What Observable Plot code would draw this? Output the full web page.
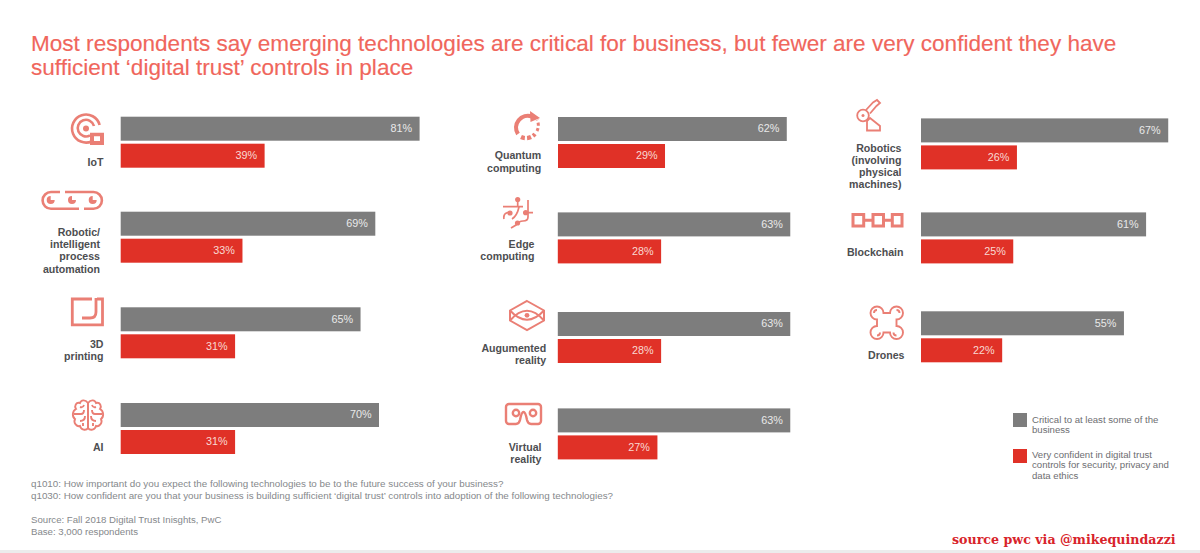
<!DOCTYPE html>
<html>
<head>
<meta charset="utf-8">
<script src="https://cdn.jsdelivr.net/npm/d3@7"></script>
<script src="https://cdn.jsdelivr.net/npm/@observablehq/plot@0.6"></script>
<style>
html,body{margin:0;padding:0;background:#fff;overflow:hidden}
#page{position:relative;width:1200px;height:553px;font-family:"Liberation Sans",sans-serif;overflow:hidden}
#title{position:absolute;left:31px;top:32px;width:1150px;margin:0;font-size:22.55px;line-height:24px;font-weight:400;color:#f0665c;white-space:nowrap;-webkit-text-stroke:.15px #f0665c}
#chart{position:absolute;left:0;top:95px}
#notes{position:absolute;left:31px;top:478px;line-height:12px;color:#85888b;white-space:nowrap}
#notes p{margin:0 0 12px 0}
#notes .q{font-size:9.82px}
#notes .s{font-size:9.64px}
.key{position:absolute;left:1013px;width:14px;height:14px}
.keytext{position:absolute;left:1032px;font-size:9.6px;line-height:10.8px;color:#6d6e71;white-space:nowrap}
#credit{position:absolute;left:952px;top:532px;font-family:"DejaVu Serif",serif;font-weight:700;font-size:12.63px;line-height:16px;color:#d8232a;white-space:nowrap}
#rule{position:absolute;left:0;top:550px;width:1200px;height:3px;background:#ececec}
</style>
</head>
<body>
<div id="page">
<h1 id="title">Most respondents say emerging technologies are critical for business, but fewer are very confident they have<br>sufficient ‘digital trust’ controls in place</h1>
<div id="chart"></div>
<div class="key" style="top:413px;background:#7d7d7d"></div>
<div class="keytext" style="top:414.5px">Critical to at least some of the<br>business</div>
<div class="key" style="top:448.5px;background:#e03127"></div>
<div class="keytext" style="top:449.5px">Very confident in digital trust<br>controls for security, privacy and<br>data ethics</div>
<div id="notes">
<p class="q">q1010: How important do you expect the following technologies to be to the future success of your business?<br>q1030: How confident are you that your business is building sufficient ‘digital trust’ controls into adoption of the following technologies?</p>
<p class="s">Source: Fall 2018 Digital Trust Inisghts, PwC<br>Base: 3,000 respondents</p>
</div>
<div id="credit">source pwc via @mikequindazzi</div>
<div id="rule"></div>
</div>
<script>
// ---- data ----
const technologies = ["IoT","Robotic/\nintelligent\nprocess\nautomation","3D\nprinting","AI","Quantum\ncomputing","Edge\ncomputing","Augumented\nreality","Virtual\nreality","Robotics\n(involving\nphysical\nmachines)","Blockchain","Drones"];
const criticalValues  = [81,69,65,70,62,63,63,63,67,61,55];
const confidentValues = [39,33,31,31,29,28,28,27,26,25,22];
const seriesNames = ["Critical to at least some of the business","Very confident in digital trust controls for security, privacy and data ethics"];

// ---- layout (page pixels) ----
const svgTop = 95, svgHeight = 375;
const pxPerPoint = 3.69;
const panelLeft  = [120.7,120.7,120.7,120.7,558,557.8,557.8,557.8,921,921,921];
const panelTop   = [116.7,211.7,307.3,403,117,212.4,312,408.4,118.4,212.4,311.3];
const labelRight = [103,99.5,103,103,540.7,534,545.7,541,901,903,904];
const labelFirst = [163,232.5,344.3,447.7,156,244.3,348.3,447.7,148.3,252.3,356];
const barColors = ["#7d7d7d","#e03127"];
const valueColors = ["#e9e9e9","#f9d9d3"];
const iconColor = "#ea7f75";

const rows = technologies.map((t,i)=>[
  {tech:t,series:seriesNames[0],value:criticalValues[i]},
  {tech:t,series:seriesNames[1],value:confidentValues[i]}
]);

const icons = `
<g fill="none" stroke="${iconColor}" stroke-width="2.6">
 <path d="M92 141.2A14 14 0 1 1 99.6 125"/><path d="M90 135.4A8.3 8.3 0 1 1 94 126"/>
 <circle cx="86" cy="128.4" r="3" fill="${iconColor}" stroke="none"/>
 <path fill-rule="evenodd" stroke="none" fill="${iconColor}" d="M90 132.7H104V145H90ZM94 136.3V141H100V136.3Z"/>
 <path d="M60 192H51a8.4 8.4 0 0 0 0 16.8H79"/><path d="M65 192H93.5a8.4 8.4 0 0 1 0 16.8H84"/>
 <path stroke="none" fill="${iconColor}" d="M50.7 196A4 4 0 1 0 54.7 200H50.7ZM72 196A4 4 0 1 0 76 200H72ZM92.7 196A4 4 0 1 0 96.7 200L92.7 200Z"/>
 <path stroke-width="2.8" d="M92 299H72.3V324.8H102.5V299H97"/><path stroke-width="2.8" d="M96 298V312Q96 318 90 318H82"/>
 <g stroke-width="1.9">
  <path d="M88 403C85 399 81 400 80 403C76 402 74 406 76 409C72 411 72 417 75 419C73 423 77 427 80 426C81 430 86 431 88 428V403"/>
  <path d="M74 414H81Q84 414 84 410M80 421Q85 421 85 416M80 407Q83 408 84 405M83 426V423"/>
 </g>
 <g stroke-width="1.9" transform="translate(176 0) scale(-1 1)">
  <path d="M88 403C85 399 81 400 80 403C76 402 74 406 76 409C72 411 72 417 75 419C73 423 77 427 80 426C81 430 86 431 88 428V403"/>
  <path d="M74 414H81Q84 414 84 410M80 421Q85 421 85 416M80 407Q83 408 84 405M83 426V423"/>
 </g>
 <path stroke-width="4.2" d="M532 116.5A11.8 11.8 0 0 0 518 134"/>
 <path stroke="none" fill="${iconColor}" d="M530 111L540 118L530.5 122Z"/>
 <path stroke-width="4.2" stroke-dasharray="4 2.2" d="M521 137A11.8 11.8 0 0 0 535 134"/>
 <path stroke-width="3" stroke-dasharray="3 2.4" d="M537 131A11.8 11.8 0 0 0 537 120"/>
 <g stroke-width="1.7">
  <path d="M503 206.7H523M517.7 200V206.7M528 200V217Q528 221 523 221Q519 221 516 225L511 228M523 212.7H533M512 212.7H507Q503 214 504 219M519 207Q517 216 512 219"/>
  <g fill="${iconColor}" stroke="none"><circle cx="517.7" cy="199.5" r="2.6"/><circle cx="525.7" cy="212.7" r="2.6"/><circle cx="510" cy="213" r="2.6"/><circle cx="517.5" cy="223" r="2.6"/></g>
 </g>
 <g stroke-width="2">
  <path d="M527 301L544 310.5V320.5L527 330L510 320.5V310.5Z"/>
  <path d="M510 310.5Q527 329 544 310.5M510 320.5Q527 301 544 320.5"/>
  <circle cx="527" cy="315.3" r="2.4" fill="${iconColor}" stroke="none"/>
 </g>
 <g stroke-width="2.4">
  <path d="M509 404H538a3 3 0 0 1 3 3V421a3 3 0 0 1-3 3H531Q528 424 527 420Q525.500 412 523.500 412Q521.500 412 520 420Q519 424 516 424H509a3 3 0 0 1-3-3V407a3 3 0 0 1 3-3Z"/>
  <circle cx="516" cy="413" r="3.2"/><circle cx="533" cy="413" r="3.2"/>
 </g>
 <g stroke-width="1.8">
  <circle cx="863" cy="115.500" r="5.800"/><circle cx="863" cy="115.500" r="1.500" fill="${iconColor}" stroke="none"/>
  <path d="M866 110L873 102.500L877 100L880 103L876.500 106L870 113.500M867 121L870 118L880 126V130.500H867V121"/>
 </g>
 <g stroke-width="3">
  <rect x="853" y="214.500" width="10.700" height="11.500"/><rect x="873" y="214.500" width="10.500" height="11.500"/><rect x="892.300" y="214.500" width="9.700" height="11.500"/>
  <path d="M864 220.300H872M884 220.300H891.500"/>
 </g>
 <g stroke-width="1.900">
  <path d="M883.500 313A6.500 6.500 0 1 0 877 319.500L877 326A6.500 6.500 0 1 0 883.500 332.500L890 332.500A6.500 6.500 0 1 0 896.500 326L896.500 319.500A6.500 6.500 0 1 0 890 313Z"/>
  <path d="M874 313A3 3 0 0 1 877 310M880 332.500A3 3 0 0 1 877 335.500M893.500 332.500A3 3 0 0 0 896.500 335.500M899.500 313A3 3 0 0 0 896.500 310"/>
 </g>
</g>`;

function iconMark(){
  const g = d3.create("svg:g").attr("transform",`translate(0,${-svgTop})`);
  g.html(icons);
  return g.node();
}

const marks = [iconMark];
rows.forEach((panel,i)=>{
  const dx = panelLeft[i], dy = panelTop[i]-svgTop;
  marks.push(Plot.barX(panel,{x:"value",y:"series",fill:"series",dx,dy}));
  seriesNames.forEach((s,k)=>{
    marks.push(Plot.text(panel,{filter:d=>d.series===s,x:"value",y:"series",text:d=>d.value+"%",dx:dx-8,dy:dy-0.5,textAnchor:"end",fill:valueColors[k],fontSize:10.8}));
  });
  marks.push(Plot.text([technologies[i]],{
    frameAnchor:"top-left",text:d=>d,dx:labelRight[i],dy:labelFirst[i]-svgTop-6,
    textAnchor:"end",lineAnchor:"top",lineHeight:1.16,fontWeight:700,fontSize:10.6,fill:"#4d4e51"
  }));
});

const chart = Plot.plot({
  width:1200,height:svgHeight,margin:0,
  style:{fontFamily:"'Liberation Sans',sans-serif",background:"transparent",overflow:"visible"},
  x:{domain:[0,1200/pxPerPoint],range:[0,1200],axis:null},
  y:{type:"band",domain:seriesNames,range:[0,51.6],paddingInner:0.11,paddingOuter:0,axis:null},
  color:{domain:seriesNames,range:barColors},
  marks
});
document.getElementById("chart").appendChild(chart);
</script>
</body>
</html>
